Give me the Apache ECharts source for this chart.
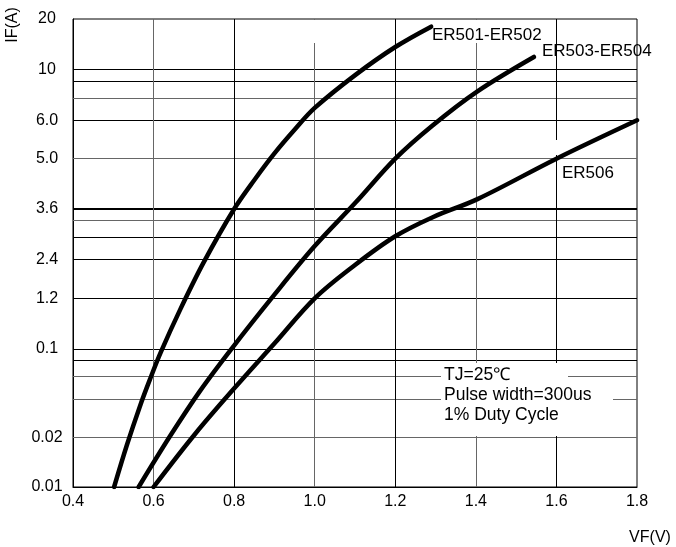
<!DOCTYPE html>
<html>
<head>
<meta charset="utf-8">
<script src="https://cdn.jsdelivr.net/npm/echarts@6/dist/echarts.min.js"></script>
<style>html,body{margin:0;padding:0;background:#fff}#c{width:676px;height:547px}</style>
</head>
<body>
<div id="c"></div>
<script>
// ---- Axis definition (the drawing uses an irregular, datasheet-style IF scale) ----
const yTickValues = [0.01, 0.02, 0.1, 1.2, 2.4, 3.6, 5.0, 6.0, 10, 20];
const yTickLabels = ['0.01', '0.02', '0.1', '1.2', '2.4', '3.6', '5.0', '6.0', '10', '20'];
const yTickPos = [0, 49.3, 138, 188.7, 227.7, 278, 328.3, 366.7, 417.7, 468];   // axis units
const yMinorPos = [88, 110.3, 126.7, 249.7, 266.7, 389, 406];                     // unlabeled grid lines
const xTickValues = [0.4, 0.6, 0.8, 1.0, 1.2, 1.4, 1.6, 1.8];

// ---- Curves: VF (V) and IF (A) ----
const er501VF = [0.502, 0.534, 0.566, 0.591, 0.618, 0.666, 0.724, 0.800, 0.852, 0.901, 0.951, 1.000, 1.102, 1.200, 1.289];
const er501IF = [0.01, 0.0181, 0.0353, 0.0576, 0.0944, 0.689, 2.26, 3.6, 4.38, 5.14, 5.75, 6.79, 9.48, 13.6, 18.0];
const er503VF = [0.563, 0.641, 0.715, 0.795, 0.899, 1.000, 1.102, 1.200, 1.291, 1.403, 1.544];
const er503IF = [0.01, 0.0206, 0.0466, 0.105, 1.27, 2.67, 3.76, 5.0, 5.84, 8.0, 11.85];
const er506VF = [0.600, 0.703, 0.802, 0.901, 1.000, 1.100, 1.200, 1.293, 1.404, 1.600, 1.800];
const er506IF = [0.01, 0.0214, 0.0497, 0.134, 1.2, 2.17, 2.89, 3.37, 3.84, 5.0, 6.0];

const seriesNames = ['ER501-ER502', 'ER503-ER504', 'ER506'];

// IF -> axis units: log interpolation between the labeled ticks of the drawn scale
function ifToPos(v) {
  const lv = Math.log(v);
  for (let i = 0; i < yTickValues.length - 1; i++) {
    const a = Math.log(yTickValues[i]), b = Math.log(yTickValues[i + 1]);
    if (lv <= b || i === yTickValues.length - 2) {
      const t = (lv - a) / (b - a);
      return yTickPos[i] + t * (yTickPos[i + 1] - yTickPos[i]);
    }
  }
}
function posLabel(p) {
  let best = 0;
  for (let i = 1; i < yTickPos.length; i++) if (Math.abs(yTickPos[i] - p) < Math.abs(yTickPos[best] - p)) best = i;
  return yTickLabels[best];
}

const FONT = 'Liberation Sans, Arial, Helvetica, sans-serif';
const BLACK = '#000';
const GRAY = '#666';

// grid line styling (black / gray alternation as in the drawing)
const hBlack = [138, 126.7, 188.7, 227.7, 249.7, 278, 366.7, 406, 417.7];
const hThick = [278];
const vBlack = [0.8, 1.2, 1.6];

const hLines = [];
yTickPos.slice(1, -1).concat(yMinorPos).forEach(p => {
  const isBlack = hBlack.indexOf(p) >= 0;
  hLines.push({
    yAxis: p,
    lineStyle: { color: isBlack ? BLACK : GRAY, width: hThick.indexOf(p) >= 0 ? 2 : 1, type: 'solid' }
  });
});
xTickValues.slice(1, -1).forEach(v => {
  hLines.push({
    xAxis: v,
    lineStyle: { color: vBlack.indexOf(v) >= 0 ? BLACK : GRAY, width: 1, type: 'solid' }
  });
});

function curve(name, vf, fi) {
  return {
    name: name,
    type: 'line',
    data: vf.map((x, i) => [x, ifToPos(fi[i])]),
    showSymbol: false,
    smooth: 0.35,
    silent: true,
    z: 10,
    lineStyle: { color: '#000', width: 4.5, cap: 'round', join: 'round' }
  };
}

const chart = echarts.init(document.getElementById('c'), null, { renderer: 'canvas' });
const option = {
  animation: false,
  backgroundColor: '#fff',
  grid: { left: 73, right: 39, top: 19, bottom: 60, show: true, borderColor: '#000', borderWidth: 1, containLabel: false },
  xAxis: {
    type: 'value', min: 0.4, max: 1.8, interval: 0.2,
    axisLine: { show: true, lineStyle: { color: '#000', width: 1 } },
    axisTick: { show: false },
    splitLine: { show: false },
    axisLabel: { color: '#000', fontSize: 16, fontFamily: FONT, margin: 7, formatter: v => v.toFixed(1) }
  },
  yAxis: {
    type: 'value', min: 0, max: 468,
    axisLine: { show: true, lineStyle: { color: '#000', width: 1 } },
    axisTick: { show: false },
    splitLine: { show: false },
    axisLabel: {
      customValues: yTickPos,
      color: '#000', fontSize: 16, fontFamily: FONT, align: 'center', margin: 26,
      formatter: v => posLabel(v)
    }
  },
  series: [
    {
      name: 'grid', type: 'line', data: [], silent: true, z: 1,
      markLine: { silent: true, symbol: ['none', 'none'], z: 1, label: { show: false }, data: hLines, animation: false }
    },
    curve(seriesNames[0], er501VF, er501IF),
    curve(seriesNames[1], er503VF, er503IF),
    curve(seriesNames[2], er506VF, er506IF)
  ],
  graphic: [
    // gaps in the drawn grid behind the notes
    { type: 'rect', z: 3, shape: { x: 441, y: 363, width: 127, height: 73 }, style: { fill: '#fff' } },
    { type: 'rect', z: 3, shape: { x: 568, y: 392, width: 45, height: 14 }, style: { fill: '#fff' } },
    { type: 'rect', z: 3, shape: { x: 311, y: 20, width: 9, height: 23 }, style: { fill: '#fff' } },
    { type: 'rect', z: 3, shape: { x: 472, y: 20, width: 10, height: 23 }, style: { fill: '#fff' } },
    { type: 'rect', z: 3, shape: { x: 552, y: 140, width: 9, height: 15 }, style: { fill: '#fff' } },
    // curve labels
    { type: 'text', z: 20, x: 432, y: 35.5, style: { text: seriesNames[0], fill: '#000', font: '17px ' + FONT, textAlign: 'left', textVerticalAlign: 'middle' } },
    { type: 'text', z: 20, x: 542, y: 51.5, style: { text: seriesNames[1], fill: '#000', font: '17px ' + FONT, textAlign: 'left', textVerticalAlign: 'middle' } },
    { type: 'text', z: 20, x: 562, y: 173, style: { text: seriesNames[2], fill: '#000', font: '17px ' + FONT, textAlign: 'left', textVerticalAlign: 'middle' } },
    // conditions note
    { type: 'text', z: 20, x: 444, y: 375, style: { text: 'TJ=25℃', fill: '#000', font: '17.5px ' + FONT, textAlign: 'left', textVerticalAlign: 'middle' } },
    { type: 'text', z: 20, x: 444, y: 395, style: { text: 'Pulse width=300us', fill: '#000', font: '17.5px ' + FONT, textAlign: 'left', textVerticalAlign: 'middle' } },
    { type: 'text', z: 20, x: 444, y: 415, style: { text: '1% Duty Cycle', fill: '#000', font: '17.5px ' + FONT, textAlign: 'left', textVerticalAlign: 'middle' } },
    // axis names
    { type: 'text', z: 20, x: 13, y: 25, rotation: Math.PI / 2, style: { text: 'IF(A)', fill: '#000', font: '16px ' + FONT, textAlign: 'center', textVerticalAlign: 'middle' } },
    { type: 'text', z: 20, x: 650, y: 538, style: { text: 'VF(V)', fill: '#000', font: '16px ' + FONT, textAlign: 'center', textVerticalAlign: 'middle' } }
  ]
};
chart.setOption(option);
</script>
</body>
</html>
